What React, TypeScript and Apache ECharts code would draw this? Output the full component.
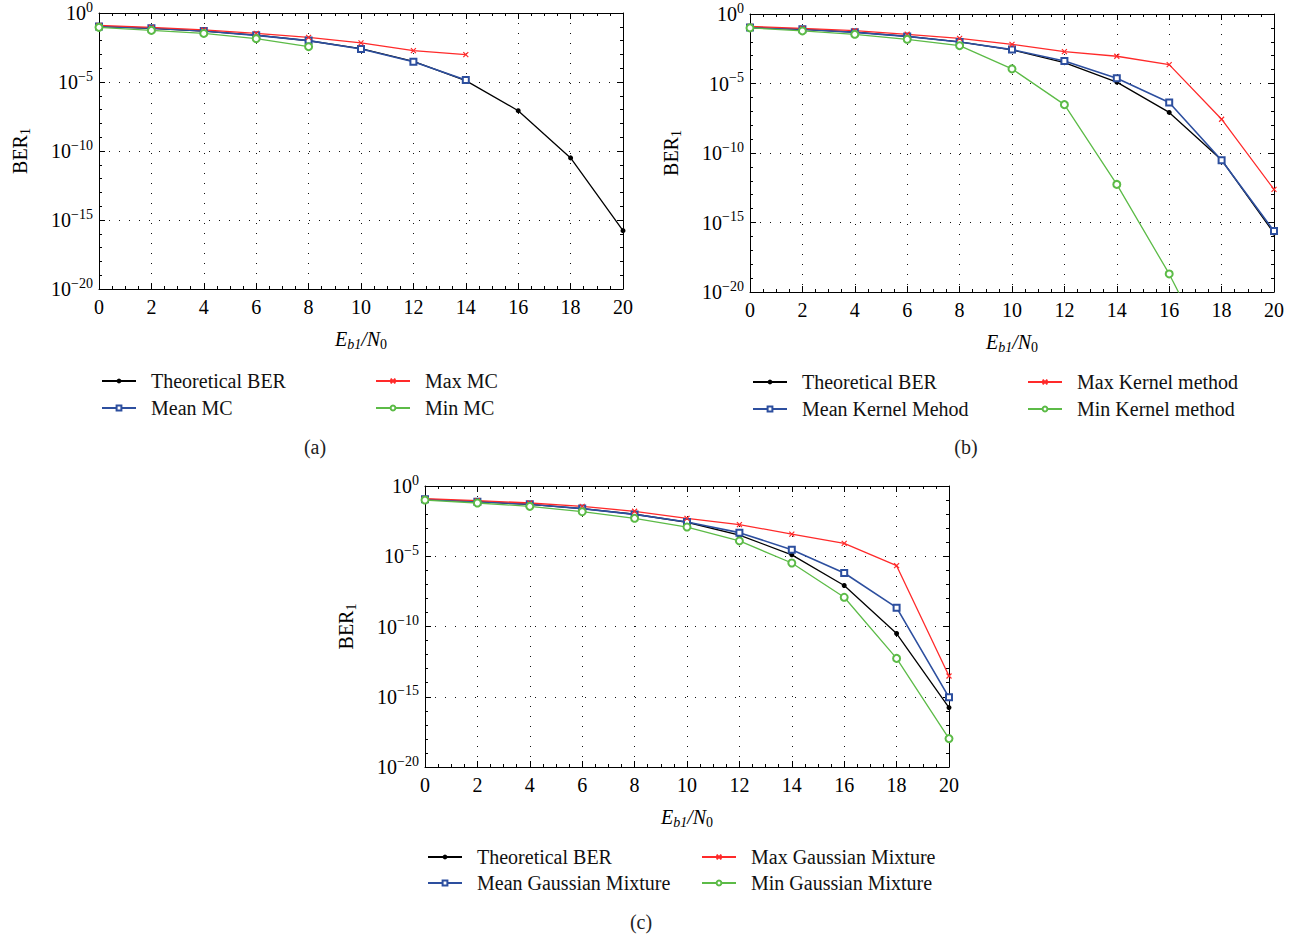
import React, { useEffect, useRef } from 'react';
import * as echarts from 'echarts';

// x values (Eb1/N0)
const ebn0 = [0, 2, 4, 6, 8, 10, 12, 14, 16, 18, 20];

// All BER values stored as log10(BER)
const theoreticalLog10 = [-0.97, -1.11, -1.31, -1.61, -2.01, -2.58, -3.5, -4.9, -7.08, -10.5, -15.77];

// (a) Monte Carlo
const meanMCLog10 = [-0.97, -1.11, -1.3, -1.62, -2.0, -2.61, -3.53, -4.86];
const maxMCLog10 = [-0.9, -1.04, -1.23, -1.48, -1.77, -2.17, -2.73, -3.02];
const minMCLog10 = [-1.04, -1.26, -1.48, -1.86, -2.44];

// (b) Kernel method
const meanKernelLog10 = [-0.98, -1.1, -1.32, -1.61, -2.01, -2.56, -3.38, -4.62, -6.37, -10.52, -15.62];
const maxKernelLog10 = [-0.89, -1.03, -1.2, -1.46, -1.75, -2.18, -2.71, -3.04, -3.64, -7.57, -12.62];
const minKernelLog10 = [-1.0, -1.22, -1.46, -1.82, -2.28, -3.95, -6.52, -12.26, -18.7, -26.1];

// (c) Gaussian mixture
const meanGMLog10 = [-0.95, -1.12, -1.3, -1.61, -2.02, -2.56, -3.32, -4.53, -6.19, -8.66, -15.04];
const maxGMLog10 = [-0.9, -1.04, -1.21, -1.45, -1.8, -2.3, -2.75, -3.42, -4.08, -5.67, -13.52];
const minGMLog10 = [-1.0, -1.21, -1.45, -1.83, -2.3, -2.92, -3.91, -5.48, -7.92, -12.27, -17.98];

const yTickExponents = { min: -20, max: 0, interval: 5 };
const xTicks = { min: 0, max: 20, interval: 2 };

const FONT = 'Liberation Serif';
const BLACK = '#000000';
const BLUE = '#2d4f9f';
const RED = '#ff2a2a';
const GREEN = '#5cbb47';
const X_SYMBOL = 'path://M0,0L10,10M0,10L10,0';

type Style = { color: string; symbol: string; size: number; width: number };
const styles: Record<string, Style> = {
  theory: { color: BLACK, symbol: 'circle', size: 5, width: 1.3 },
  mean: { color: BLUE, symbol: 'emptyRect', size: 6, width: 1.6 },
  max: { color: RED, symbol: X_SYMBOL, size: 5, width: 1.3 },
  min: { color: GREEN, symbol: 'emptyCircle', size: 7, width: 1.3 },
};

function mkSeries(name: string, data: number[], st: Style, gi: number) {
  return {
    type: 'line',
    name,
    xAxisIndex: gi * 2,
    yAxisIndex: gi * 2,
    data: data.map((v, i) => [ebn0[i], v]),
    symbol: st.symbol,
    symbolSize: st.size,
    showSymbol: true,
    clip: true,
    lineStyle: { color: st.color, width: st.width },
    itemStyle: {
      color: st.symbol === X_SYMBOL ? 'none' : st.color,
      borderColor: st.color,
      borderWidth: st.symbol === 'circle' ? 0 : 1.2,
    },
    emphasis: { disabled: true },
  };
}

const xName = '{i|E}{si|b1}{i|/N}{s|0}';
const xNameRich = {
  i: { fontFamily: FONT, fontStyle: 'italic', fontSize: 20, lineHeight: 24, verticalAlign: 'middle', color: '#000' },
  si: { fontFamily: FONT, fontStyle: 'italic', fontSize: 14, lineHeight: 12, verticalAlign: 'bottom', color: '#000' },
  s: { fontFamily: FONT, fontSize: 14, lineHeight: 12, verticalAlign: 'bottom', color: '#000' },
};
const yName = '{b|BER}{s|1}';
const yNameRich = {
  b: { fontFamily: FONT, fontSize: 20, lineHeight: 24, verticalAlign: 'middle', color: '#000' },
  s: { fontFamily: FONT, fontSize: 14, lineHeight: 12, verticalAlign: 'bottom', color: '#000' },
};

function xAxes(gi: number) {
  const common = {
    type: 'value',
    gridIndex: gi,
    min: xTicks.min,
    max: xTicks.max,
    interval: xTicks.interval,
    axisLine: { show: true, onZero: false, lineStyle: { color: '#000', width: 1 } },
    axisTick: { show: true, inside: true, length: 6, lineStyle: { color: '#000' } },
    minorTick: { show: true, splitNumber: 4, length: 3, lineStyle: { color: '#000' } },
  };
  return [
    {
      ...common,
      position: 'bottom',
      axisLabel: { margin: 8, color: '#000', fontFamily: FONT, fontSize: 20 },
      splitLine: { show: true, lineStyle: { color: '#111', type: [1, 9], width: 1 } },
      name: xName,
      nameLocation: 'middle',
      nameGap: 38,
      nameTextStyle: { fontFamily: FONT, rich: xNameRich },
    },
    { ...common, position: 'top', axisLabel: { show: false }, splitLine: { show: false } },
  ];
}

function yAxes(gi: number) {
  const common = {
    type: 'value',
    gridIndex: gi,
    min: yTickExponents.min,
    max: yTickExponents.max,
    interval: yTickExponents.interval,
    axisLine: { show: true, onZero: false, lineStyle: { color: '#000', width: 1 } },
    axisTick: { show: true, inside: true, length: 6, lineStyle: { color: '#000' } },
    minorTick: { show: true, splitNumber: 5, length: 3, lineStyle: { color: '#000' } },
  };
  return [
    {
      ...common,
      position: 'left',
      axisLabel: {
        margin: 6,
        fontFamily: FONT,
        formatter: (v: number) => (v === 0 ? '{b|10}{p|0}' : `{b|10}{p|\u2212${Math.abs(v)}}`),
        rich: {
          b: { fontFamily: FONT, fontSize: 20, lineHeight: 26, verticalAlign: 'middle', color: '#000' },
          p: { fontFamily: FONT, fontSize: 14, lineHeight: 14, verticalAlign: 'top', color: '#000' },
        },
      },
      splitLine: { show: true, lineStyle: { color: '#111', type: [1, 9], width: 1 } },
      name: yName,
      nameLocation: 'middle',
      nameGap: 67,
      nameRotate: 90,
      nameTextStyle: { fontFamily: FONT, rich: yNameRich },
    },
    { ...common, position: 'right', axisLabel: { show: false }, splitLine: { show: false } },
  ];
}

const panels = [
  {
    grid: { left: 99, top: 13, width: 524, height: 276 },
    names: ['Theoretical BER', 'Mean MC', 'Max MC', 'Min MC'],
    data: [theoreticalLog10, meanMCLog10, maxMCLog10, minMCLog10],
    legendCols: [101, 375],
    legendRows: [371, 398],
    caption: { text: '(a)', x: 315, y: 447 },
  },
  {
    grid: { left: 750, top: 14, width: 524, height: 278 },
    names: ['Theoretical BER', 'Mean Kernel Mehod', 'Max Kernel method', 'Min Kernel method'],
    data: [theoreticalLog10, meanKernelLog10, maxKernelLog10, minKernelLog10],
    legendCols: [752, 1027],
    legendRows: [372, 399],
    caption: { text: '(b)', x: 966, y: 447 },
  },
  {
    grid: { left: 425, top: 486, width: 524, height: 281 },
    names: ['Theoretical BER', 'Mean Gaussian Mixture', 'Max Gaussian Mixture', 'Min Gaussian Mixture'],
    data: [theoreticalLog10, meanGMLog10, maxGMLog10, minGMLog10],
    legendCols: [427, 701],
    legendRows: [847, 873],
    caption: { text: '(c)', x: 641, y: 922 },
  },
];

const styleOrder = ['theory', 'mean', 'max', 'min'];

export default function App() {
  const ref = useRef<HTMLDivElement>(null);
  useEffect(() => {
    if (!ref.current) return;
    const chart = echarts.init(ref.current, undefined, { renderer: 'svg' });
    const grids: any[] = [];
    const xs: any[] = [];
    const ys: any[] = [];
    const series: any[] = [];
    const legends: any[] = [];
    const graphics: any[] = [];
    panels.forEach((p, gi) => {
      grids.push(p.grid);
      xs.push(...xAxes(gi));
      ys.push(...yAxes(gi));
      p.names.forEach((n, k) => {
        series.push(mkSeries(n, p.data[k], styles[styleOrder[k]], gi));
        const col = k < 2 ? 0 : 1;
        const row = k % 2;
        legends.push({
          data: [n],
          left: p.legendCols[col],
          top: p.legendRows[row],
          itemWidth: 34,
          itemHeight: 6,
          selectedMode: false,
          padding: 0,
          formatter: (name: string) => `{t|${name}}`,
          textStyle: {
            fontFamily: FONT,
            fontSize: 20,
            color: '#111',
            rich: {
              t: { fontFamily: FONT, fontSize: 20, color: '#111', padding: [0, 0, 0, 10] },
            },
          },
        });
      });
      graphics.push({
        type: 'text',
        x: p.caption.x,
        y: p.caption.y,
        style: {
          text: p.caption.text,
          fontFamily: FONT,
          fontSize: 20,
          fill: '#222',
          textAlign: 'center',
          textVerticalAlign: 'middle',
        },
      });
    });
    chart.setOption({
      animation: false,
      backgroundColor: '#fff',
      textStyle: { fontFamily: FONT },
      grid: grids,
      xAxis: xs,
      yAxis: ys,
      series,
      legend: legends,
      graphic: graphics,
    });
    return () => chart.dispose();
  }, []);
  return (
    <div
      ref={ref}
      style={{ position: 'fixed', left: 0, top: 0, width: 1296, height: 936 }}
    />
  );
}
